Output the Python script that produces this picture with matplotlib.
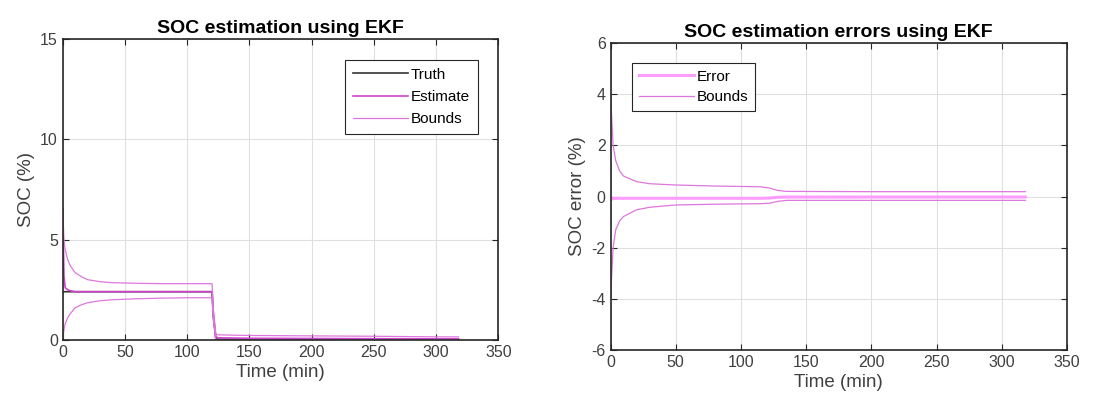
import numpy as np
import matplotlib
matplotlib.use('Agg')
import matplotlib.pyplot as plt

plt.rcParams['font.family'] = ['Liberation Sans', 'DejaVu Sans']
plt.rcParams['axes.unicode_minus'] = False

# ── SOC estimation (left panel) ──
t_soc = [0, 1, 2, 4, 6, 10, 15, 20, 30, 40, 60, 80, 100, 120, 121, 123, 125, 150, 200, 250, 300, 318]
soc_truth = [2.4, 2.4, 2.4, 2.4, 2.4, 2.4, 2.4, 2.4, 2.4, 2.4, 2.4, 2.4, 2.4, 2.4, 1.2, 0.05, 0.03, 0.03, 0.03, 0.03, 0.03, 0.03]
soc_est = [6.5, 3.2, 2.6, 2.5, 2.45, 2.4, 2.4, 2.4, 2.4, 2.4, 2.4, 2.4, 2.4, 2.4, 1.3, 0.15, 0.1, 0.08, 0.07, 0.06, 0.05, 0.05]
soc_upper = [6.5, 5.0, 4.5, 4.0, 3.7, 3.35, 3.15, 3.0, 2.9, 2.85, 2.82, 2.8, 2.8, 2.8, 1.6, 0.3, 0.25, 0.22, 0.2, 0.18, 0.15, 0.15]
soc_lower = [0.0, 0.5, 0.8, 1.1, 1.3, 1.6, 1.75, 1.85, 1.95, 2.0, 2.05, 2.08, 2.1, 2.1, 1.0, 0.0, 0.0, 0.0, 0.0, 0.0, 0.0, 0.0]

# ── SOC estimation error (right panel) ──
t_err = [0, 1, 2, 4, 7, 10, 20, 30, 50, 80, 115, 122, 128, 135, 200, 250, 318]
err = [-0.1, -0.1, -0.08, -0.07, -0.07, -0.07, -0.07, -0.07, -0.07, -0.07, -0.07, -0.06, -0.03, -0.02, -0.02, -0.02, -0.02]
err_upper = [4.0, 3.0, 2.0, 1.4, 1.0, 0.8, 0.58, 0.5, 0.45, 0.41, 0.38, 0.33, 0.24, 0.2, 0.19, 0.19, 0.19]
err_lower = [-4.0, -3.0, -2.0, -1.3, -0.95, -0.78, -0.52, -0.42, -0.33, -0.3, -0.28, -0.26, -0.19, -0.15, -0.15, -0.15, -0.15]

AX_COL = '#262626'
TXT_COL = '#404040'
TRUTH_COL = '#333333'
EST_COL = '#cc44cc'
BND_COL = '#dd77dd'
ERR_COL = '#ff9cff'


def matlab_style(ax):
    ax.grid(True, color='#e0e0e0', linewidth=0.8)
    ax.set_axisbelow(True)
    ax.tick_params(direction='in', colors=AX_COL, labelsize=11.5, length=4,
                   top=True, right=True, labelcolor=TXT_COL)
    for s in ax.spines.values():
        s.set_color(AX_COL)
        s.set_linewidth(1.2)


fig = plt.figure(figsize=(11, 4.09), dpi=100)
ax1 = fig.add_axes([0.057, 0.169, 0.396, 0.736])
ax2 = fig.add_axes([0.555, 0.144, 0.415, 0.751])

ax1.plot(t_soc, soc_truth, color=TRUTH_COL, linewidth=1.2, label='Truth')
ax1.plot(t_soc, soc_est, color=EST_COL, linewidth=1.2, label='Estimate')
ax1.plot(t_soc, soc_upper, color=BND_COL, linewidth=0.9, label='Bounds')
ax1.plot(t_soc, soc_lower, color=BND_COL, linewidth=0.9)
ax1.set_xlim(0, 350); ax1.set_ylim(0, 15)
ax1.set_xticks(range(0, 351, 50)); ax1.set_yticks([0, 5, 10, 15])
ax1.set_xlabel('Time (min)', fontsize=13.5, color=TXT_COL, labelpad=3)
ax1.set_ylabel('SOC (%)', fontsize=13.5, color=TXT_COL)
ax1.set_title('SOC estimation using EKF', fontsize=14, fontweight='bold', pad=4)
matlab_style(ax1)
leg1 = ax1.legend(loc='upper right', bbox_to_anchor=(0.97, 0.955), fontsize=11,
                  fancybox=False, edgecolor=AX_COL, framealpha=1, handlelength=3.6,
                  borderpad=0.5, labelspacing=0.55, handletextpad=0.2)
leg1.get_frame().set_linewidth(0.8)

ax2.plot(t_err, err, color=ERR_COL, linewidth=2.2, label='Error')
ax2.plot(t_err, err_upper, color=BND_COL, linewidth=0.9, label='Bounds')
ax2.plot(t_err, err_lower, color=BND_COL, linewidth=0.9)
ax2.set_xlim(0, 350); ax2.set_ylim(-6, 6)
ax2.set_xticks(range(0, 351, 50)); ax2.set_yticks(range(-6, 7, 2))
ax2.set_xlabel('Time (min)', fontsize=13.5, color=TXT_COL, labelpad=3)
ax2.set_ylabel('SOC error (%)', fontsize=13.5, color=TXT_COL)
ax2.set_title('SOC estimation errors using EKF', fontsize=14, fontweight='bold', pad=4)
matlab_style(ax2)
leg2 = ax2.legend(loc='upper left', bbox_to_anchor=(0.03, 0.96), fontsize=11,
                  fancybox=False, edgecolor=AX_COL, framealpha=1, handlelength=3.6,
                  borderpad=0.45, labelspacing=0.4, handletextpad=0.2)
leg2.get_frame().set_linewidth(0.8)

plt.savefig('out.png', dpi=100)
